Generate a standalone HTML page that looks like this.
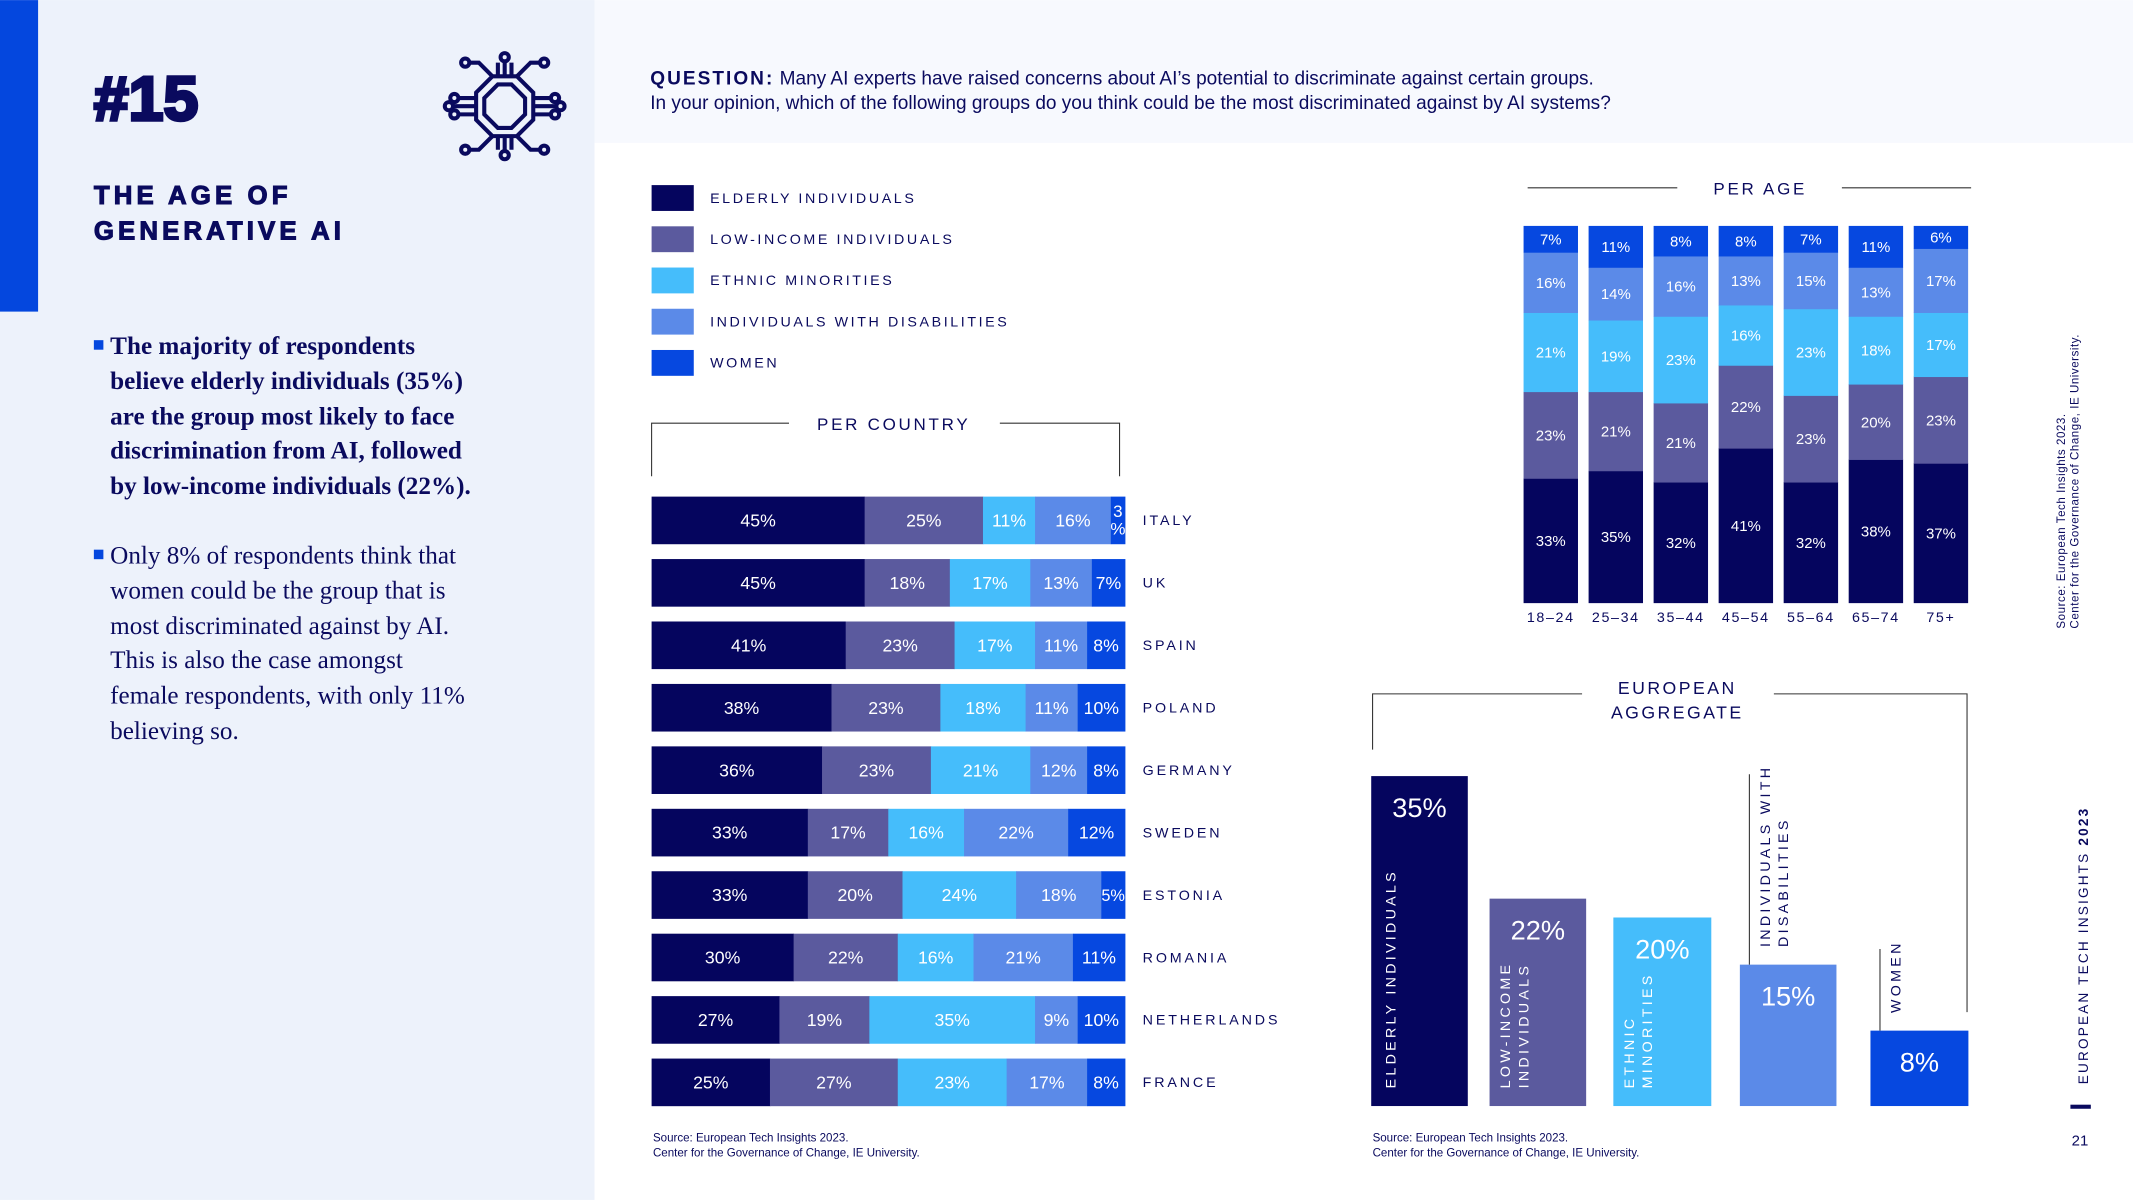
<!DOCTYPE html>
<html><head><meta charset="utf-8">
<style>
html,body{margin:0;padding:0;background:#fff;}
body{width:2133px;height:1200px;overflow:hidden;}
svg{display:block;font-family:"Liberation Sans",sans-serif;}
</style></head>
<body>
<svg id="page" width="2133" height="1200" viewBox="0 0 1568 882" xmlns="http://www.w3.org/2000/svg">
  <rect x="437" y="0" width="1131" height="105" fill="#f7f9fe"/>
  <rect x="0" y="0" width="437" height="882" fill="#edf2fb"/>
  <rect x="0" y="0" width="28" height="229" fill="#0447de"/>
  <text x="69" y="88" font-size="46" font-weight="900" fill="#0a0a5e" stroke="#0a0a5e" stroke-width="2.5">#15</text>
  <g fill="none" stroke="#0a0a5e" stroke-width="3">
    <polygon points="362,56 380,56 392,68 392,88 380,100 362,100 350,88 350,68"/>
    <polygon points="366,62 376,62 386,72 386,84 376,94 366,94 356,84 356,72"/>
    <path d="M366,56 V46 M371,56 V44 M376,56 V46 M366,100 V110 M371,100 V112 M376,100 V110 M350,72 H338 M350,78 H334 M350,84 H338 M392,72 H404 M392,78 H408 M392,84 H404 M362,56 L352,46 H344 M380,56 L390,46 H398 M362,100 L352,110 H344 M380,100 L390,110 H398"/>
    <circle cx="342" cy="46" r="3"/><circle cx="400" cy="46" r="3"/><circle cx="371" cy="42" r="3"/>
    <circle cx="342" cy="110" r="3"/><circle cx="400" cy="110" r="3"/><circle cx="371" cy="114" r="3"/>
    <circle cx="334" cy="72" r="3"/><circle cx="330" cy="78" r="3"/><circle cx="334" cy="84" r="3"/>
    <circle cx="408" cy="72" r="3"/><circle cx="412" cy="78" r="3"/><circle cx="408" cy="84" r="3"/>
  </g>
  <text x="69" y="150" font-size="19" font-weight="900" fill="#0a0a5e" stroke="#0a0a5e" stroke-width="0.8" letter-spacing="3">THE AGE OF</text>
  <text x="69" y="176" font-size="19" font-weight="900" fill="#0a0a5e" stroke="#0a0a5e" stroke-width="0.8" letter-spacing="3">GENERATIVE AI</text>
  <g font-family="Liberation Serif, serif" font-size="18.5" fill="#0a0a5e">
    <rect x="69" y="250" width="7" height="7" fill="#0447de"/>
    <text font-weight="bold"><tspan x="81" y="260">The majority of respondents</tspan><tspan x="81" y="286">believe elderly individuals (35%)</tspan><tspan x="81" y="312">are the group most likely to face</tspan><tspan x="81" y="337">discrimination from AI, followed</tspan><tspan x="81" y="363">by low-income individuals (22%).</tspan></text>
    <rect x="69" y="404" width="7" height="7" fill="#0447de"/>
    <text><tspan x="81" y="414">Only 8% of respondents think that</tspan><tspan x="81" y="440">women could be the group that is</tspan><tspan x="81" y="466">most discriminated against by AI.</tspan><tspan x="81" y="491">This is also the case amongst</tspan><tspan x="81" y="517">female respondents, with only 11%</tspan><tspan x="81" y="543">believing so.</tspan></text>
  </g>
  <text font-size="14" fill="#0a0a5e"><tspan x="478" y="62"><tspan font-weight="bold" letter-spacing="1.5">QUESTION:</tspan> Many AI experts have raised concerns about AI’s potential to discriminate against certain groups.</tspan><tspan x="478" y="80">In your opinion, which of the following groups do you think could be the most discriminated against by AI systems?</tspan></text>
  <g id="legend"></g>
  <g id="country"></g>
  <g id="age"></g>
  <g id="agg"></g>
  <text font-size="8.5" fill="#0a0a5e"><tspan x="480" y="839">Source: European Tech Insights 2023.</tspan><tspan x="480" y="850">Center for the Governance of Change, IE University.</tspan></text>
  <text font-size="8.5" fill="#0a0a5e"><tspan x="1009" y="839">Source: European Tech Insights 2023.</tspan><tspan x="1009" y="850">Center for the Governance of Change, IE University.</tspan></text>
  <text transform="translate(1518,462) rotate(-90)" font-size="8.5" fill="#0a0a5e" letter-spacing="0.4"><tspan x="0" y="0">Source: European Tech Insights 2023.</tspan><tspan x="0" y="10">Center for the Governance of Change, IE University.</tspan></text>
  <text transform="translate(1535,797) rotate(-90)" font-size="10" fill="#0a0a5e" letter-spacing="1.6">EUROPEAN TECH INSIGHTS <tspan font-weight="bold">2023</tspan></text>
  <rect x="1522" y="812" width="15" height="3" fill="#0a0a5e"/>
  <text x="1529" y="842" font-size="11" fill="#0a0a5e" text-anchor="middle">21</text>
</svg>
<script>
const NS = "http://www.w3.org/2000/svg";
const seriesNames = ["ELDERLY INDIVIDUALS","LOW-INCOME INDIVIDUALS","ETHNIC MINORITIES","INDIVIDUALS WITH DISABILITIES","WOMEN"];
const seriesColors = ["#05055e","#5b5a9e","#45bdfb","#5b8ae8","#0648e0"];
const countries = ["ITALY","UK","SPAIN","POLAND","GERMANY","SWEDEN","ESTONIA","ROMANIA","NETHERLANDS","FRANCE"];
const cElderly = [45,45,41,38,36,33,33,30,27,25];
const cLowIncome = [25,18,23,23,23,17,20,22,19,27];
const cEthnic = [11,17,17,18,21,16,24,16,35,23];
const cDisab = [16,13,11,11,12,22,18,21,9,17];
const cWomen = [3,7,8,10,8,12,5,11,10,8];
const ages = ["18–24","25–34","35–44","45–54","55–64","65–74","75+"];
const aElderly = [33,35,32,41,32,38,37];
const aLowIncome = [23,21,21,22,23,20,23];
const aEthnic = [21,19,23,16,23,18,17];
const aDisab = [16,14,16,13,15,13,17];
const aWomen = [7,11,8,8,7,11,6];
const aggValues = [35,22,20,15,8];

function mk(tag, attrs, parent){const e=document.createElementNS(NS,tag);for(const k in attrs)e.setAttribute(k,attrs[k]);parent.appendChild(e);return e;}
function txt(x,y,s,size,fill,parent,anchor){const t=mk("text",{x:x,y:y,"font-size":size,fill:fill,"text-anchor":anchor||"start"},parent);t.textContent=s;return t;}

// legend
const lg=document.getElementById("legend");
seriesNames.forEach((n,i)=>{
  const r=mk("rect",{x:479,y:136+i*30.3,width:31,height:19,fill:seriesColors[i]},lg);
  
  
  const t=txt(522,149+i*30.3,n,10.5,"#0a0a5e",lg);
  t.setAttribute("letter-spacing","1.9");
  
  
});

// country chart
const cg=document.getElementById("country");
mk("path",{d:"M479,350 V311 H580 M735,311 H823 V350",fill:"none",stroke:"#333","stroke-width":0.8},cg);
const ct=txt(657,316,"PER COUNTRY",12.5,"#0a0a5e",cg,"middle");ct.setAttribute("letter-spacing","2");


const cx0=479, cW=348;
const xC=v=>v/100*cW;
const yC=i=>365+i*45.9;
const cSeries=[cElderly,cLowIncome,cEthnic,cDisab,cWomen];
countries.forEach((c,i)=>{
  let acc=0;
  cSeries.forEach((s,j)=>{
    const v=s[i], x=cx0+xC(acc), w=xC(v);
    const r=mk("rect",{x:x,y:yC(i),width:w+0.3,height:35,fill:seriesColors[j]},cg);
    
    
    if(w<13){
      txt(x+w/2,yC(i)+15,String(v),12.5,"#fff",cg,"middle");
      txt(x+w/2,yC(i)+28,"%",12.5,"#fff",cg,"middle");
    } else {
      const t=txt(x+w/2,yC(i)+22,v+"%",w<20?12:13,"#fff",cg,"middle");
      
      
    }
    acc+=v;
  });
  const l=txt(840,yC(i)+21,c,10.5,"#0a0a5e",cg);l.setAttribute("letter-spacing","2.1");
  
  
});

// age chart
const ag=document.getElementById("age");
mk("path",{d:"M1123,138 H1233 M1354,138 H1449",fill:"none",stroke:"#333","stroke-width":0.8},ag);
const at=txt(1294,143,"PER AGE",12.5,"#0a0a5e",ag,"middle");at.setAttribute("letter-spacing","2");


const aBottom=443, aH=277;
const yA=v=>v/100*aH;
const xA=i=>1120+i*47.8;
const aSeries=[aElderly,aLowIncome,aEthnic,aDisab,aWomen];
ages.forEach((a,i)=>{
  let acc=0;
  aSeries.forEach((s,j)=>{
    const v=s[i], h=yA(v), y=aBottom-yA(acc)-h;
    const r=mk("rect",{x:xA(i),y:y,width:40,height:h+0.3,fill:seriesColors[j]},ag);
    
    
    txt(xA(i)+20,y+h/2+4,v+"%",11,"#fff",ag,"middle");
    acc+=v;
  });
  const l=txt(xA(i)+20,457,a,10.5,"#0a0a5e",ag,"middle");l.setAttribute("letter-spacing","1.2");
  
  
});

// aggregate chart
const gg=document.getElementById("agg");
mk("path",{d:"M1009,551 V510 H1163 M1304,510 H1446 V744",fill:"none",stroke:"#333","stroke-width":0.8},gg);
const g1=txt(1233,510,"EUROPEAN",13,"#0a0a5e",gg,"middle");g1.setAttribute("letter-spacing","1.8");


const g2=txt(1233,528,"AGGREGATE",13,"#0a0a5e",gg,"middle");g2.setAttribute("letter-spacing","1.8");
const gBottom=813;
const yG=v=>v*6.93;
const gX=[1008,1095,1186,1279,1375];
const gW=[71,71,72,71,72];
const aggLabels=[["ELDERLY INDIVIDUALS"],["LOW-INCOME","INDIVIDUALS"],["ETHNIC","MINORITIES"],["INDIVIDUALS WITH","DISABILITIES"],["WOMEN"]];
aggValues.forEach((v,i)=>{
  const h=yG(v), y=gBottom-h;
  const r=mk("rect",{x:gX[i],y:y,width:gW[i],height:h,fill:seriesColors[i]},gg);
  
  
  txt(gX[i]+gW[i]/2,y+30,v+"%",20,"#fff",gg,"middle");
  const inside=i<3;
  const baseY=inside?800:y-13;
  const col=inside?"#fff":"#0a0a5e";
  if(!inside){ mk("line",{x1:gX[i]+7,y1:y,x2:gX[i]+7,y2:y-(i==3?140:60),stroke:"#333","stroke-width":0.8},gg); }
  aggLabels[i].forEach((line,k)=>{
    const lx=gX[i]+(inside?(i==0?18:15):22)+k*13.5;
    const t=mk("text",{transform:"translate("+lx+","+baseY+") rotate(-90)","font-size":10.5,fill:col,"letter-spacing":"2.4"},gg);
    t.textContent=line;
    
    
  });
});
</script>
</body></html>
